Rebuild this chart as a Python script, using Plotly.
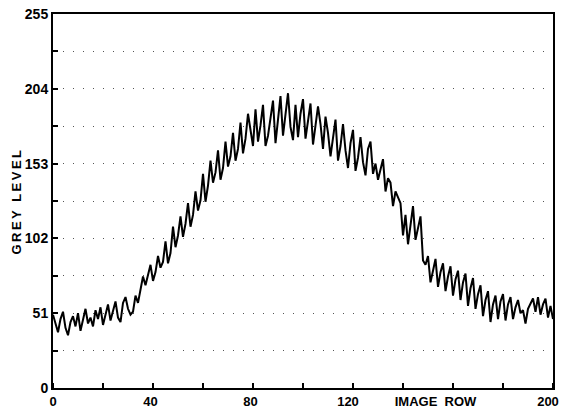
import plotly.graph_objects as go

row = list(range(0, 201))
grey = [
    # 0-34
    50, 44, 38, 47, 52, 41, 36, 45, 49, 42, 51, 39, 46, 54, 44, 48, 42, 53, 47, 55,
    43, 50, 57, 46, 52, 59, 48, 45, 58, 62, 54, 50, 52, 63, 58,
    # 35-59
    66, 76, 70, 77, 84, 73, 79, 90, 82, 86, 100, 85, 92, 110, 96, 104, 117, 103, 112, 126,
    110, 118, 134, 121, 128,
    # 60-99
    146, 127, 138, 155, 140, 147, 162, 142, 150, 168, 151, 158, 174, 155, 163, 181, 160, 170, 187, 176,
    165, 190, 168, 179, 193, 165, 172, 184, 196, 167, 185, 199, 172, 186, 201, 178, 169, 193, 171, 187,
    # 100-139
    197, 170, 183, 194, 166, 178, 192, 180, 163, 185, 174, 158, 170, 183, 155, 165, 180, 162, 150, 167,
    176, 148, 157, 171, 154, 145, 163, 168, 146, 153, 142, 150, 156, 134, 143, 140, 124, 134, 130, 126,
    # 140-160
    104, 118, 98, 112, 124, 101, 108, 117, 87, 84, 90, 72, 80, 88, 69, 79, 85, 66, 76, 83, 63,
    # 161-200
    74, 80, 60, 72, 78, 56, 68, 75, 54, 64, 70, 49, 60, 66, 45, 57, 63, 47, 59, 64,
    46, 57, 62, 47, 55, 60, 51, 53, 44, 54, 58, 61, 52, 62, 50, 57, 61, 48, 56, 47,
]

y_ticks = [0, 51, 102, 153, 204, 255]
x_tickvals = [0, 39, 79, 118, 153, 198]
x_ticktext = ["0", "40", "80", "120", "IMAGE  ROW", "200"]

fig = go.Figure()
fig.add_trace(go.Scatter(
    x=row, y=grey, mode="lines",
    line=dict(color="black", width=2),
    showlegend=False,
))

bold = dict(family="Liberation Sans, Arial", size=14, color="black", weight="bold")
xbold = dict(family="Liberation Sans, Arial", size=13, color="black", weight="bold")

fig.update_layout(
    width=562, height=409,
    margin=dict(l=53, r=9, t=14, b=21),
    paper_bgcolor="white", plot_bgcolor="white",
    font=bold,
)
fig.update_xaxes(
    range=[0, 200], tickmode="array", tickvals=x_tickvals, ticktext=x_ticktext,
    ticks="", ticklabeloverflow="allow",
    minor=dict(dtick=20, tick0=0, ticks="inside", ticklen=5, tickwidth=1.5, tickcolor="black", showgrid=False),
    showgrid=False, zeroline=False,
    showline=True, linecolor="black", linewidth=2, mirror=True,
    tickfont=xbold,
    automargin=False,
)
fig.update_yaxes(
    range=[0, 255], tickmode="array", tickvals=y_ticks,
    ticks="inside", ticklen=5, tickwidth=1.5, tickcolor="black",
    minor=dict(dtick=25.5, tick0=0, ticks="inside", ticklen=5, tickwidth=1.5, tickcolor="black",
               showgrid=True, gridcolor="#555555", gridwidth=1, griddash="1px,9px"),
    showgrid=True, gridcolor="#555555", gridwidth=1, griddash="1px,9px",
    zeroline=False,
    showline=True, linecolor="black", linewidth=2, mirror=True,
    tickfont=bold,
    title=dict(text='<span style="letter-spacing:2.5px">GREY LEVEL</span>', standoff=0,
               font=dict(family="Liberation Sans, Arial", size=13, color="black", weight="bold")),
    automargin=False,
)

fig.write_html("out.html")
